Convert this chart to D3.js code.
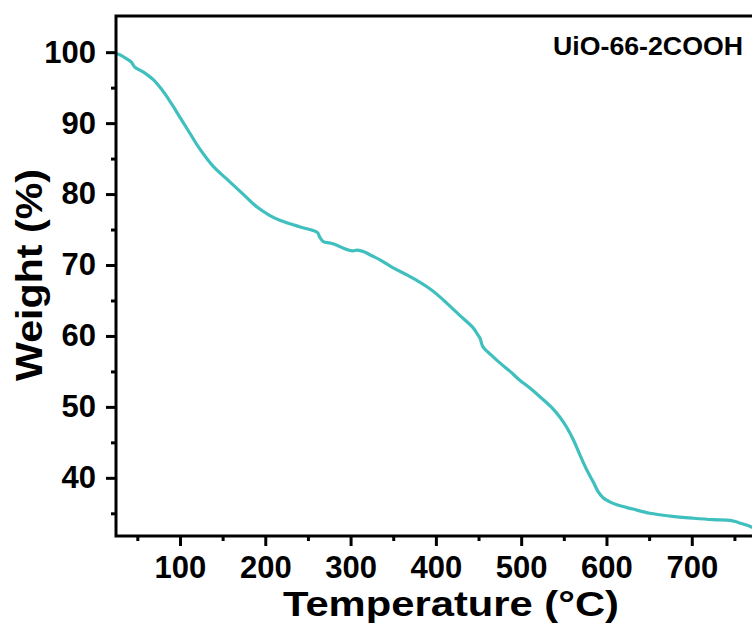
<!DOCTYPE html>
<html>
<head>
<meta charset="utf-8">
<script src="https://cdn.jsdelivr.net/npm/d3@7"></script>
<style>
    body { margin: 0; background: #fff; }
    svg { display: block; font-family: 'Liberation Sans', Arial, sans-serif; font-weight: bold; }
</style>
</head>
<body>
<div class="chart-container"></div>
<script>
// TGA curve
const temperature = [25, 30, 37, 43, 47, 57, 69, 82, 96, 112, 123, 139, 155, 174, 190, 205, 217,
    240, 255, 261, 264, 268, 276, 284, 293, 302, 308, 315, 325, 335, 350, 366, 378, 390, 400, 413, 428,
    444, 449, 452, 455, 465, 475, 487, 498, 512, 526, 536, 545, 553, 561, 569, 577, 585, 590, 596, 604,
    612, 631, 651, 675, 702, 725, 745, 752, 757, 765, 771]
const weight = [99.8, 99.6, 99.1, 98.6, 97.9, 97.2, 96.1, 94.2, 91.6, 88.5, 86.4, 83.9, 82.1, 80.0, 78.2, 77.0, 76.3,
    75.4, 74.9, 74.6, 73.9, 73.3, 73.1, 72.8, 72.3, 72.0, 72.1, 71.9, 71.3, 70.7, 69.6, 68.6, 67.8, 66.9, 66.0, 64.6, 62.9,
    61.1, 60.2, 59.6, 58.5, 57.3, 56.2, 55.0, 53.8, 52.5, 51.0, 49.9, 48.6, 47.2, 45.4, 43.2, 41.1, 39.3, 38.1, 37.2, 36.6,
    36.2, 35.6, 35.0, 34.6, 34.3, 34.1, 34.0, 33.8, 33.6, 33.3, 33.0]
const xTicks = [100, 200, 300, 400, 500, 600, 700]
const xMinor = [50, 150, 250, 350, 450, 550, 650, 750]
const yTicks = [40, 50, 60, 70, 80, 90, 100]
const yMinor = [35, 45, 55, 65, 75, 85, 95]
const sampleName = 'UiO-66-2COOH'

const width = 752
const height = 633
const margin = { top: 16, left: 116, bottom: 536 }
const lineColor = '#40bfbf'

const svg = d3
    .select('.chart-container')
    .append('svg')
    .attr('width', width)
    .attr('height', height)

const x = d3.scaleLinear().domain([25, 800]).range([margin.left, margin.left + 775 * 0.853])
const y = d3.scaleLinear().domain([31.8, 105.1]).range([margin.bottom, margin.top])

const data = temperature.map((t, i) => ({ t: t, w: weight[i] }))

svg.append('defs').append('clipPath').attr('id', 'clip')
    .append('rect')
    .attr('x', margin.left).attr('y', margin.top)
    .attr('width', width - margin.left).attr('height', margin.bottom - margin.top)

const line = d3.line()
    .x(d => x(d.t))
    .y(d => y(d.w))
    .curve(d3.curveCatmullRom.alpha(0.5))

svg.append('path')
    .datum(data)
    .attr('clip-path', 'url(#clip)')
    .attr('fill', 'none')
    .attr('stroke', lineColor)
    .attr('stroke-width', 3.2)
    .attr('stroke-linejoin', 'round')
    .attr('d', line)

// axes
const xAxis = svg.append('g')
    .attr('transform', `translate(0,${margin.bottom})`)
    .call(d3.axisBottom(x).tickValues(xTicks).tickSize(10).tickPadding(10).tickFormat(d3.format('d')))
xAxis.append('g').call(d3.axisBottom(x).tickValues(xMinor).tickSize(5).tickFormat(''))

const yAxis = svg.append('g')
    .attr('transform', `translate(${margin.left},0)`)
    .call(d3.axisLeft(y).tickValues(yTicks).tickSize(10).tickPadding(10).tickFormat(d3.format('d')))
yAxis.append('g').call(d3.axisLeft(y).tickValues(yMinor).tickSize(5).tickFormat(''))

svg.selectAll('.domain').remove()
svg.selectAll('.tick line').attr('stroke', '#000').attr('stroke-width', 3)
svg.selectAll('.tick text')
    .attr('fill', '#000')
    .style('font-size', '31px')
    .style('font-family', "'Liberation Sans', Arial, sans-serif")
    .style('font-weight', 'bold')

// frame: left, bottom and top (right edge is cut off)
svg.append('path')
    .attr('fill', 'none')
    .attr('stroke', '#000')
    .attr('stroke-width', 3)
    .attr('d', `M${width},${margin.top}H${margin.left}V${margin.bottom}H${width}`)

svg.append('text')
    .attr('x', 743)
    .attr('y', 55)
    .attr('text-anchor', 'end')
    .attr('textLength', 190)
    .attr('lengthAdjust', 'spacingAndGlyphs')
    .style('font-size', '25px')
    .text(sampleName)

svg.append('text')
    .attr('x', 451)
    .attr('y', 616)
    .attr('text-anchor', 'middle')
    .attr('textLength', 336)
    .attr('lengthAdjust', 'spacingAndGlyphs')
    .style('font-size', '35px')
    .text('Temperature (°C)')

svg.append('text')
    .attr('transform', 'translate(42,275) rotate(-90)')
    .attr('text-anchor', 'middle')
    .attr('textLength', 212)
    .attr('lengthAdjust', 'spacingAndGlyphs')
    .style('font-size', '37px')
    .text('Weight (%)')
</script>
</body>
</html>
